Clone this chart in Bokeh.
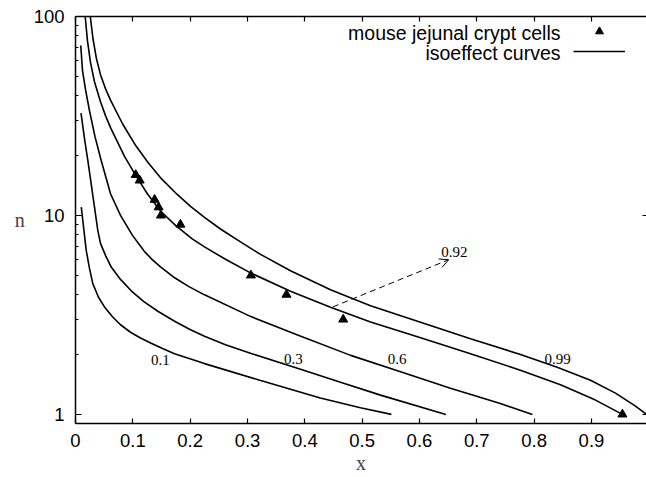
from bokeh.plotting import figure
from bokeh.models import (FixedTicker, PrintfTickFormatter, LinearAxis, LogAxis,
                          Legend, LegendItem, Label, Arrow, OpenHead)
from bokeh.core.properties import value
from bokeh.embed import file_html
from bokeh.resources import INLINE

# ---------------- data ----------------
# measured points: mouse jejunal crypt cells
data_x = [0.105, 0.112, 0.138, 0.145, 0.149, 0.183, 0.306, 0.368, 0.467, 0.954]
data_n = [16, 15, 12, 11, 10, 9, 5, 4, 3, 1]

# isoeffect curves
c01_x = [0.0101, 0.0127, 0.0187, 0.0244, 0.0302, 0.0401, 0.0506, 0.0645, 0.0785,
         0.0959, 0.1134, 0.132, 0.1518, 0.1727, 0.225, 0.323, 0.427, 0.497, 0.551]
c01_n = [11.0, 9.44, 6.67, 5.42, 4.54, 3.88, 3.47, 3.095, 2.822,
         2.588, 2.42, 2.279, 2.144, 2.02, 1.80, 1.48, 1.21, 1.08, 1.0]

c03_x = [0.0096, 0.0162, 0.0215, 0.0302, 0.0389, 0.0436, 0.0523, 0.0623, 0.0785,
         0.0972, 0.1186, 0.1436, 0.1744, 0.2006, 0.225, 0.2616, 0.3052, 0.3925,
         0.4622, 0.532, 0.646]
c03_n = [32.7, 23.8, 18.9, 12.6, 8.41, 7.24, 6.30, 5.50, 4.77,
         4.18, 3.70, 3.30, 2.92, 2.665, 2.47, 2.24, 2.03, 1.688,
         1.452, 1.25, 1.0]

c06_x = [0.0092, 0.0122, 0.0178, 0.0244, 0.0340, 0.0448, 0.0611, 0.0785, 0.0994,
         0.120, 0.1343, 0.1483, 0.173, 0.1971, 0.225, 0.305, 0.393, 0.480, 0.567,
         0.654, 0.741, 0.797]
c06_n = [71.5, 53.4, 42.4, 33.6, 24.9, 18.9, 12.85, 10.0, 7.94,
         6.60, 5.98, 5.52, 4.86, 4.40, 3.99, 3.11, 2.47, 1.98, 1.64,
         1.355, 1.133, 1.0]

c092_x = [0.0169, 0.0209, 0.0262, 0.0331, 0.0436, 0.0523, 0.0619, 0.0855, 0.105,
          0.1256, 0.1483, 0.1744, 0.2036, 0.225, 0.2616, 0.3052, 0.375, 0.4448,
          0.5146, 0.602, 0.689, 0.776, 0.846, 0.907, 0.954]
c092_n = [100, 75.5, 58.6, 47.0, 37.3, 31.75, 27.3, 19.8, 15.9,
          12.82, 10.53, 8.91, 7.62, 6.95, 6.02, 5.145, 4.155, 3.455,
          2.91, 2.43, 2.02, 1.668, 1.411, 1.18, 1.0]

c099_x = [0.0258, 0.0305, 0.0366, 0.0436, 0.0523, 0.0611, 0.0820, 0.105, 0.1265,
          0.148, 0.1774, 0.2006, 0.225, 0.2529, 0.2878, 0.3227, 0.375, 0.4448,
          0.5146, 0.6018, 0.689, 0.7762, 0.8402, 0.8983, 0.9419, 0.9768, 0.996]
c099_n = [100, 77.3, 61.3, 51.0, 43.4, 38.0, 28.9, 22.45, 18.45,
          15.5, 12.75, 11.1, 9.77, 8.55, 7.36, 6.37, 5.27, 4.23,
          3.52, 2.905, 2.40, 2.0, 1.727, 1.486, 1.279, 1.10, 1.0]

# curve labels
label_txt = ["0.1", "0.3", "0.6", "0.99", "0.92"]
label_x = [0.148, 0.380, 0.561, 0.841, 0.661]
label_n = [1.87, 1.89, 1.89, 1.89, 6.54]

x_ticks = [0, 0.1, 0.2, 0.3, 0.4, 0.5, 0.6, 0.7, 0.8, 0.9]
y_ticks = [1, 10, 100]
y_minor = [2, 3, 4, 5, 6, 7, 8, 9, 20, 30, 40, 50, 60, 70, 80, 90]

SANS = "Liberation Sans"
SERIF = "Liberation Serif"

# ---------------- figure ----------------
p = figure(width=646, height=477, y_axis_type="log",
           x_range=(0, 0.996), y_range=(0.9, 100),
           output_backend="svg", toolbar_location=None,
           min_border_left=75, min_border_right=0,
           min_border_top=16, min_border_bottom=54)
p.outline_line_color = None
p.grid.visible = False
p.background_fill_color = "white"
p.border_fill_color = "white"

# bottom axis
xa = p.xaxis[0]
xa.ticker = FixedTicker(ticks=x_ticks)
xa.formatter = PrintfTickFormatter(format="%g")
xa.major_tick_in = 5
xa.major_tick_out = 0
xa.minor_tick_line_color = None
xa.axis_line_width = 1.5
xa.major_tick_line_width = 1.2
xa.major_label_text_font = SANS
xa.major_label_text_font_size = "18.5px"
xa.major_label_text_color = "black"
xa.major_label_standoff = 10
xa.axis_label = "x"
xa.axis_label_text_font = SERIF
xa.axis_label_text_font_style = "normal"
xa.axis_label_text_font_size = "20px"
xa.axis_label_standoff = 2

# left axis
ya = p.yaxis[0]
ya.ticker = FixedTicker(ticks=y_ticks, minor_ticks=y_minor)
ya.formatter = PrintfTickFormatter(format="%g")
ya.major_tick_in = 6
ya.major_tick_out = 0
ya.minor_tick_in = 3
ya.minor_tick_out = 0
ya.axis_line_width = 1.5
ya.major_tick_line_width = 1.2
ya.minor_tick_line_width = 1.0
ya.major_label_text_font = SANS
ya.major_label_text_font_size = "18.5px"
ya.major_label_text_color = "black"
ya.major_label_standoff = 11
ya.axis_label = "n"
ya.axis_label_text_font = SERIF
ya.axis_label_text_font_style = "normal"
ya.axis_label_text_font_size = "20px"
ya.axis_label_orientation = "horizontal"
ya.axis_label_standoff = 6

# top axis (ticks only)
ta = LinearAxis(ticker=FixedTicker(ticks=x_ticks), major_tick_in=5, major_tick_out=0,
                minor_tick_line_color=None, major_label_text_font_size="1px",
                major_label_text_color=None,
                major_label_standoff=0, axis_line_width=1.5, major_tick_line_width=1.2)
p.add_layout(ta, "above")

# right axis (ticks only, no line)
ra = LogAxis(ticker=FixedTicker(ticks=y_ticks), major_tick_in=4, major_tick_out=0,
             minor_tick_line_color=None, major_label_text_font_size="1px",
             major_label_text_color=None,
             major_label_standoff=0, axis_line_color=None, major_tick_line_width=1.2)
p.add_layout(ra, "right")

# ---------------- curves ----------------
lw = 1.6
r_curve = None
for cx, cn in [(c01_x, c01_n), (c03_x, c03_n), (c06_x, c06_n),
               (c092_x, c092_n), (c099_x, c099_n)]:
    r_curve = p.line(cx, cn, line_color="black", line_width=lw)

r_pts = p.scatter(data_x, data_n, marker="triangle", size=9,
                  fill_color="black", line_color="black")

p.text(x=label_x, y=label_n, text=label_txt, text_font=value(SERIF),
       text_font_size="15px", text_align="center", text_baseline="middle",
       text_color="black")

p.add_layout(Arrow(end=OpenHead(size=9, line_width=1.0, line_color="black"),
                   x_start=0.449, y_start=3.47, x_end=0.651, y_end=5.99,
                   line_dash="6 4", line_width=1.0, line_color="black"))

# ---------------- legend ----------------
legend = Legend(items=[LegendItem(label=" ", renderers=[r_pts]),
                       LegendItem(label=" ", renderers=[r_curve])],
                location=(498, 362), glyph_width=52, glyph_height=20,
                label_width=1, label_height=20, label_standoff=0,
                padding=0, margin=0, spacing=0,
                border_line_color=None, background_fill_alpha=0,
                label_text_font_size="2px")
p.add_layout(legend)

p.add_layout(Label(x=0.846, y=82.5, text="mouse jejunal crypt cells",
                   text_font=SANS, text_font_size="19.5px", text_align="right",
                   text_baseline="middle", text_color="black"))
p.add_layout(Label(x=0.846, y=65.5, text="isoeffect curves",
                   text_font=SANS, text_font_size="19.5px", text_align="right",
                   text_baseline="middle", text_color="black"))

open("out.html", "w").write(file_html(p, INLINE))
